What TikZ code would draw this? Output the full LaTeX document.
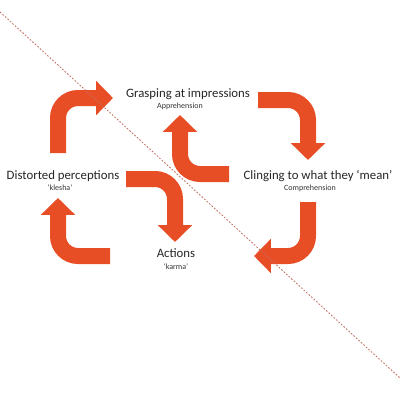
\documentclass[tikz,border=0pt]{standalone}
\usepackage{fontspec}
\setmainfont{Carlito}
\definecolor{cycleorange}{RGB}{232,78,37}
\definecolor{dotline}{RGB}{195,110,100}
\usetikzlibrary{arrows.meta}

\begin{document}
\begin{tikzpicture}[x=0.25mm, y=-0.25mm,
  bigarrow/.style={cycleorange, line width=4mm, rounded corners=5mm, -{Triangle[length=4.2mm, width=8.3mm]}},
  title/.style={anchor=base, inner sep=0pt, font=\fontsize{9.1}{11}\selectfont, text=black!85},
  sub/.style={anchor=base, inner sep=0pt, font=\fontsize{5.7}{7}\selectfont, text=black!80}]
\useasboundingbox (0,0) rectangle (400,400);
\node[title] (grasp) at (188,97) {Grasping at impressions};
\node[sub] (appr) at (180,108) {Apprehension};
\node[title] (cling) at (318,179) {Clinging to what they ‘mean’};
\node[sub] (compr) at (310,190.5) {Comprehension};
\node[title] (act) at (176,257) {Actions};
\node[sub] (karma) at (176,269) {‘karma’};
\node[title] (dist) at (63,179) {Distorted perceptions};
\node[sub] (klesha) at (60,190) {‘klesha’};
\coordinate (a1s) at (58,153); \coordinate (a1e) at (113,98);
\coordinate (a2s) at (258,100); \coordinate (a2e) at (308,160);
\coordinate (a3s) at (308,202); \coordinate (a3e) at (254,256);
\coordinate (a4s) at (110,256); \coordinate (a4e) at (58,198);
\coordinate (a5s) at (229,174); \coordinate (a5e) at (180,115);
\coordinate (a6s) at (126,179); \coordinate (a6e) at (175,242);
\draw[bigarrow] (a1s) |- (a1e);
\draw[bigarrow] (a2s) -| (a2e);
\draw[bigarrow] (a3s) |- (a3e);
\draw[bigarrow] (a4s) -| (a4e);
\draw[bigarrow] (a5s) -| (a5e);
\draw[bigarrow] (a6s) -| (a6e);
\coordinate (d1) at (0,12); \coordinate (d2) at (400,378);
\draw[dotline, line width=0.6pt, dash pattern=on 1.2pt off 1.2pt] (d1) -- (d2);
\end{tikzpicture}
\end{document}
